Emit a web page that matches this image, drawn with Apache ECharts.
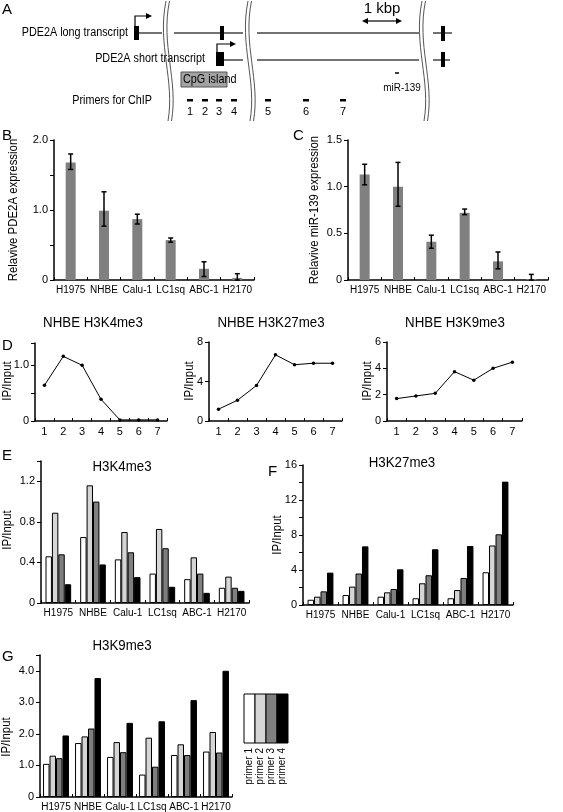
<!DOCTYPE html>
<html><head><meta charset="utf-8">
<script src="https://cdn.jsdelivr.net/npm/echarts@6/dist/echarts.min.js"></script>
<style>html,body{margin:0;padding:0;background:#fff}#c{width:563px;height:812px}</style>
</head><body><div id="c"></div>
<script>
// ---------- DATA ----------
const cellLines = ['H1975','NHBE','Calu-1','LC1sq','ABC-1','H2170'];
const pde2aExpr    = [1.68, 0.99, 0.87, 0.57, 0.16, 0.03];
const pde2aErrLow  = [1.58, 0.77, 0.80, 0.54, 0.05, 0.00];
const pde2aErrHigh = [1.80, 1.26, 0.94, 0.60, 0.26, 0.09];
const mir139Expr    = [1.13, 1.00, 0.41, 0.72, 0.20, 0.01];
const mir139ErrLow  = [1.02, 0.79, 0.34, 0.70, 0.12, 0.00];
const mir139ErrHigh = [1.24, 1.26, 0.48, 0.76, 0.30, 0.06];
const primerPositions = ['1','2','3','4','5','6','7'];
const nhbeH3K4  = [0.64, 1.16, 1.00, 0.39, 0.02, 0.02, 0.02];
const nhbeH3K27 = [1.2, 2.1, 3.6, 6.7, 5.7, 5.85, 5.85];
const nhbeH3K9  = [1.7, 1.9, 2.1, 3.75, 3.1, 4.0, 4.47];
const primerNames = ['primer 1','primer 2','primer 3','primer 4'];
const h3k4Primer1 = [0.46, 0.65, 0.43, 0.29, 0.235, 0.15];
const h3k4Primer2 = [0.89, 1.16, 0.70, 0.73, 0.45, 0.26];
const h3k4Primer3 = [0.48, 1.00, 0.50, 0.54, 0.29, 0.15];
const h3k4Primer4 = [0.185, 0.38, 0.255, 0.16, 0.10, 0.12];
const h3k27Primer1 = [0.6, 1.14, 0.95, 0.77, 0.77, 3.74];
const h3k27Primer2 = [0.95, 2.1, 1.45, 2.48, 1.71, 6.8];
const h3k27Primer3 = [1.56, 3.6, 1.83, 3.4, 3.09, 8.08];
const h3k27Primer4 = [3.7, 6.7, 4.08, 6.37, 6.74, 14.1];
const h3k9Primer1 = [1.05, 1.71, 1.27, 0.71, 1.33, 1.44];
const h3k9Primer2 = [1.31, 1.92, 1.74, 1.88, 1.67, 2.06];
const h3k9Primer3 = [1.23, 2.17, 1.42, 0.96, 1.33, 1.41];
const h3k9Primer4 = [1.95, 3.77, 2.35, 2.40, 3.07, 4.00];
const ticksB = [0, 1, 2];
const ticksC = [0, 0.5, 1, 1.5];
const ticksD1 = [0, 1];
const ticksD2 = [0, 4, 8];
const ticksD3 = [0, 2, 4, 6];
const ticksE = [0, 0.4, 0.8, 1.2];
const ticksF = [0, 4, 8, 12, 16];
const ticksG = [0, 1, 2, 3, 4];

// ---------- STYLE ----------
const FONT = '"Liberation Sans", Arial, sans-serif';
const primerColors = ['#ffffff', '#d6d6d6', '#7f7f7f', '#000000'];
const fmt1 = v => v === 0 ? '0' : v.toFixed(1);
const fmt0 = v => String(v);

const grids = [
  {left: 54,  top: 140, width: 200, height: 140}, // 0 B
  {left: 348, top: 140, width: 200, height: 140}, // 1 C
  {left: 35,  top: 343, width: 132, height: 78},  // 2 D1
  {left: 209, top: 342, width: 133, height: 79},  // 3 D2
  {left: 387, top: 342, width: 135, height: 79},  // 4 D3
  {left: 41,  top: 461, width: 208, height: 142}, // 5 E
  {left: 303, top: 465, width: 210, height: 140}, // 6 F
  {left: 40,  top: 655, width: 192, height: 142}  // 7 G
];

function yAx(gi, min, max, interval, ticks, fmt) {
  return {type: 'value', gridIndex: gi, min, max, interval,
    axisLine: {show: true, lineStyle: {color: '#000', width: 1.5}},
    axisTick: {show: true, length: 4, lineStyle: {color: '#000', width: 1}},
    splitLine: {show: false},
    axisLabel: {fontFamily: FONT, fontSize: 11, color: '#000', margin: 6, showMaxLabel: true, showMinLabel: true,
      formatter: v => { const m = ticks.find(t => Math.abs(t - v) < 1e-6); return m === undefined ? '' : fmt(m); }}
  };
}
function xAx(gi, data, fontSize) {
  return {type: 'category', gridIndex: gi, data, boundaryGap: true,
    axisLine: {show: true, onZero: false, lineStyle: {color: '#000', width: 1.5}},
    axisTick: {show: true, inside: true, length: 3, lineStyle: {color: '#000', width: 1}},
    axisLabel: {fontFamily: FONT, fontSize, color: '#000', margin: 5, interval: 0}};
}
function errSeries(ai, low, high) {
  return {type: 'custom', xAxisIndex: ai, yAxisIndex: ai, z: 10, silent: true,
    data: low.map((l, i) => [i, l, high[i]]),
    encode: {x: 0, y: [1, 2]},
    renderItem: (params, api) => {
      const x = api.value(0);
      const p1 = api.coord([x, api.value(1)]);
      const p2 = api.coord([x, api.value(2)]);
      const hw = 2.5, st = {stroke: '#000', lineWidth: 1.5};
      return {type: 'group', children: [
        {type: 'line', shape: {x1: p1[0], y1: p1[1], x2: p2[0], y2: p2[1]}, style: st},
        {type: 'line', shape: {x1: p1[0] - hw, y1: p1[1], x2: p1[0] + hw, y2: p1[1]}, style: st},
        {type: 'line', shape: {x1: p2[0] - hw, y1: p2[1], x2: p2[0] + hw, y2: p2[1]}, style: st}
      ]};
    }};
}
function lineSeries(ai, data) {
  return {type: 'line', xAxisIndex: ai, yAxisIndex: ai, data, symbol: 'circle', symbolSize: 3.5,
    lineStyle: {color: '#000', width: 1}, itemStyle: {color: '#000'}, animation: false};
}
function groupBars(ai, arrs, gap) {
  return arrs.map((d, k) => ({type: 'bar', xAxisIndex: ai, yAxisIndex: ai, name: primerNames[k], data: d,
    barGap: '0%', barCategoryGap: gap,
    itemStyle: {color: primerColors[k], borderColor: '#000', borderWidth: 1}}));
}

// ---------- GRAPHIC (panel A + labels) ----------
const G = [];
const T = (text, x, y, size, align, extra, sx) => G.push(Object.assign({type: 'text', x, y, z: 100, scaleX: sx || 1,
  style: {text, x: 0, y: 0, fill: '#000', font: size + 'px ' + FONT, align: align || 'left', verticalAlign: 'middle',
          textAlign: align || 'left', textVerticalAlign: 'middle'}}, extra || {}));
const L = (x1, y1, x2, y2, w, c) => G.push({type: 'line', z: 100, shape: {x1, y1, x2, y2}, style: {stroke: c || '#444', lineWidth: w || 1.5}});
const R = (x, y, w, h, fill, stroke) => G.push({type: 'rect', z: 100, shape: {x, y, width: w, height: h}, style: {fill, stroke: stroke || null, lineWidth: 1}});
const P = (pts, c) => G.push({type: 'polygon', z: 100, shape: {points: pts}, style: {fill: c || '#000'}});
const PL = (pts, w) => G.push({type: 'polyline', z: 100, shape: {points: pts}, style: {stroke: '#000', lineWidth: w || 1.2, fill: null}});
const ROT = {rotation: Math.PI / 2};
const NS = 0.9; // narrow text

T('A', 2, 10, 15);
T('PDE2A long transcript', 128, 33, 12, 'right', null, NS);
L(139, 33, 162, 33); L(174, 33, 243, 33); L(257, 33, 419, 33); L(433, 33, 452, 33);
R(134, 26, 5, 14, '#000'); R(220, 26, 4, 14, '#000'); R(441, 26, 4, 15, '#000');
PL([[135, 26], [135, 16], [147, 16]]); P([[152, 16], [146, 13], [146, 19]]);
T('PDE2A short transcript', 205, 59, 12, 'right', null, NS);
L(224, 60, 243, 60); L(257, 60, 419, 60); L(433, 60, 450, 60);
R(216, 52, 8, 14, '#000'); R(441, 52, 4, 15, '#000');
PL([[217, 52], [217, 44], [231, 44]]); P([[236, 44], [230, 41], [230, 47]]);
R(181, 72, 46, 15, '#a3a3a3', '#555'); T('CpG island', 183, 80, 12, 'left', null, NS);
T('1 kbp', 382, 9, 15, 'center');
L(367, 21, 397, 21, 1.2, '#000'); P([[362, 21], [368, 18], [368, 24]]); P([[402, 21], [396, 18], [396, 24]]);
L(395, 73, 399, 73, 1.5, '#000'); T('miR-139', 402, 88, 11, 'center', null, NS);
T('Primers for ChIP', 152, 101, 12, 'right', null, NS);
const primerX = [190, 205, 219, 234, 268, 306, 343];
primerPositions.forEach((p, i) => { R(primerX[i] - 3, 99, 6, 2.5, '#000'); T(p, primerX[i], 112, 11, 'center'); });
[165, 247, 421].forEach(bx => {
  [0, 3.5].forEach(o => G.push({type: 'bezierCurve', z: 101,
    shape: {x1: bx + o + 1, y1: 1, cpx1: bx + o - 8, cpy1: 45, cpx2: bx + o + 10, cpy2: 80, x2: bx + o + 3, y2: 121},
    style: {stroke: '#555', lineWidth: 1, fill: null}}));
});

// panel letters
T('B', 2, 136, 15); T('C', 293, 136, 15); T('D', 2, 346, 15);
T('E', 2, 456, 15); T('F', 268, 472, 15); T('G', 2, 657, 15);
// axis titles
T('Relavive PDE2A expression', 14, 210, 12, 'center', ROT, 0.95);
T('Relavive miR-139 expression', 315, 210, 12, 'center', ROT, 0.95);
T('IP/Input', 8, 381, 12, 'center', ROT, 0.95);
T('IP/Input', 190, 381, 12, 'center', ROT, 0.95);
T('IP/Input', 368, 381, 12, 'center', ROT, 0.95);
T('IP/Input', 8, 530, 12, 'center', ROT, 0.95);
T('IP/Input', 278, 535, 12, 'center', ROT, 0.95);
T('IP/Input', 7, 737, 12, 'center', ROT, 0.95);
// chart titles
T('NHBE H3K4me3', 93, 323, 14, 'center', null, 0.95);
T('NHBE H3K27me3', 271, 323, 14, 'center', null, 0.95);
T('NHBE H3K9me3', 455, 323, 14, 'center', null, 0.95);
T('H3K4me3', 122, 467, 14, 'center', null, 0.95);
T('H3K27me3', 402, 463, 14, 'center', null, 0.95);
T('H3K9me3', 122, 646, 14, 'center', null, 0.95);
// legend
primerColors.forEach((c, k) => {
  R(244 + k * 11, 694, 11, 49, c, '#000');
  T(primerNames[k], 249.5 + k * 11, 748, 10, 'right', ROT);
});

// ---------- OPTION ----------
const option = {
  backgroundColor: '#fff',
  animation: false,
  grid: grids,
  xAxis: [
    xAx(0, cellLines, 10), xAx(1, cellLines, 10),
    xAx(2, primerPositions, 11), xAx(3, primerPositions, 11), xAx(4, primerPositions, 11),
    xAx(5, cellLines, 10), xAx(6, cellLines, 10), xAx(7, cellLines, 10)
  ],
  yAxis: [
    yAx(0, 0, 2, 0.5, ticksB, fmt1), yAx(1, 0, 1.5, 0.5, ticksC, fmt1),
    yAx(2, 0, 1.4, 0.5, ticksD1, fmt1), yAx(3, 0, 8, 4, ticksD2, fmt0), yAx(4, 0, 6, 2, ticksD3, fmt0),
    yAx(5, 0, 1.4, 0.4, ticksE, fmt1), yAx(6, 0, 16, 2, ticksF, fmt0), yAx(7, 0, 4.5, 1, ticksG, fmt1)
  ],
  series: [
    {type: 'bar', xAxisIndex: 0, yAxisIndex: 0, data: pde2aExpr, barWidth: 10, itemStyle: {color: '#808080'}},
    errSeries(0, pde2aErrLow, pde2aErrHigh),
    {type: 'bar', xAxisIndex: 1, yAxisIndex: 1, data: mir139Expr, barWidth: 10, itemStyle: {color: '#808080'}},
    errSeries(1, mir139ErrLow, mir139ErrHigh),
    lineSeries(2, nhbeH3K4), lineSeries(3, nhbeH3K27), lineSeries(4, nhbeH3K9),
    ...groupBars(5, [h3k4Primer1, h3k4Primer2, h3k4Primer3, h3k4Primer4], '26%'),
    ...groupBars(6, [h3k27Primer1, h3k27Primer2, h3k27Primer3, h3k27Primer4], '26%'),
    ...groupBars(7, [h3k9Primer1, h3k9Primer2, h3k9Primer3, h3k9Primer4], '19%')
  ],
  graphic: {elements: G}
};
const chart = echarts.init(document.getElementById('c'), null, {renderer: 'canvas'});
chart.setOption(option);
</script>
</body></html>
